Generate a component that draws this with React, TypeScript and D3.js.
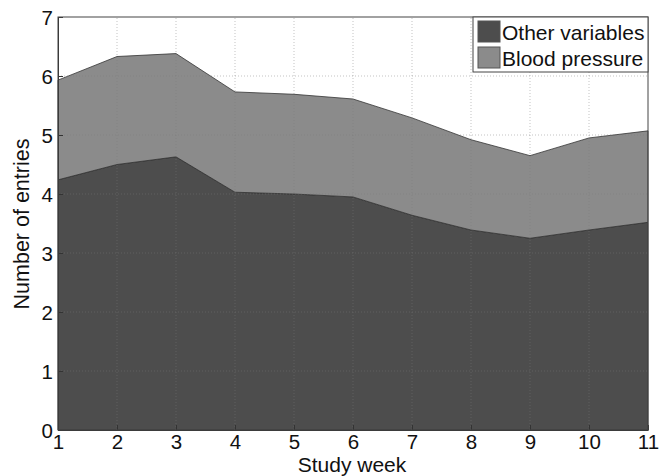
import React, { useRef, useEffect } from 'react';
import * as d3 from 'd3';

const weeks = [1, 2, 3, 4, 5, 6, 7, 8, 9, 10, 11];
const otherVariables = [4.24, 4.5, 4.63, 4.03, 4.0, 3.95, 3.64, 3.39, 3.25, 3.39, 3.52];
const bloodPressure = [1.69, 1.83, 1.75, 1.7, 1.69, 1.66, 1.65, 1.53, 1.4, 1.56, 1.55];
const seriesNames = ['Other variables', 'Blood pressure'];
const seriesColors = ['#4d4d4d', '#8b8b8b'];
const yTicks = [0, 1, 2, 3, 4, 5, 6, 7];

const App = () => {
  const ref = useRef<SVGSVGElement>(null);

  useEffect(() => {
    const svg = d3.select(ref.current);
    svg.selectAll('*').remove();

    const width = 669;
    const height = 476;
    const margin = { top: 17, right: 21, bottom: 46, left: 58 };
    const font = 'Liberation Sans, Arial, sans-serif';

    const data = weeks.map((w, i) => ({ week: w, other: otherVariables[i], bp: bloodPressure[i] }));
    const series = d3.stack<any>().keys(['other', 'bp'])(data);

    const x = d3.scaleLinear().domain([1, 11]).range([margin.left, width - margin.right]);
    const y = d3.scaleLinear().domain([0, 7]).range([height - margin.bottom, margin.top]);

    svg.append('rect').attr('x', margin.left).attr('y', margin.top)
      .attr('width', x(11) - x(1)).attr('height', y(0) - y(7)).attr('fill', '#fff');

    const area = d3.area<any>().x(d => x(d.data.week)).y0(d => y(d[0])).y1(d => y(d[1]));

    svg.append('g').selectAll('path').data(series).join('path')
      .attr('d', area).attr('fill', (d, i) => seriesColors[i])
      .attr('stroke', '#333').attr('stroke-width', 0.8);

    // dotted grid on top
    const grid = svg.append('g').attr('stroke', '#777').attr('stroke-opacity', 0.45)
      .attr('stroke-dasharray', '1,2').attr('stroke-width', 1);
    grid.selectAll('.gx').data(weeks.slice(1, -1)).join('line')
      .attr('x1', d => x(d)).attr('x2', d => x(d)).attr('y1', y(0)).attr('y2', y(7));
    grid.selectAll('.gy').data(yTicks.slice(1, -1)).join('line')
      .attr('y1', d => y(d)).attr('y2', d => y(d)).attr('x1', x(1)).attr('x2', x(11));

    const xAxis = svg.append('g').attr('transform', `translate(0,${y(0)})`)
      .call(d3.axisBottom(x).tickValues(weeks).tickFormat(d3.format('d')).tickSizeInner(-5).tickSizeOuter(0).tickPadding(3));
    const yAxis = svg.append('g').attr('transform', `translate(${x(1)},0)`)
      .call(d3.axisLeft(y).tickValues(yTicks).tickFormat(d3.format('d')).tickSizeInner(-5).tickSizeOuter(0).tickPadding(5));
    [xAxis, yAxis].forEach(g => {
      g.selectAll('text').attr('font-family', font).attr('font-size', 20.5).attr('fill', '#111');
      g.selectAll('line, path').attr('stroke', '#333');
    });
    xAxis.selectAll('text').attr('dy', '0.8em');
    yAxis.selectAll('text').attr('dy', '0.35em');

    // frame
    svg.append('rect').attr('x', x(1)).attr('y', y(7)).attr('width', x(11) - x(1)).attr('height', y(0) - y(7))
      .attr('fill', 'none').attr('stroke', '#444').attr('stroke-width', 1);

    svg.append('text').attr('x', 352).attr('y', 472).attr('text-anchor', 'middle')
      .attr('font-family', font).attr('font-size', 21).attr('fill', '#111').text('Study week');
    svg.append('text').attr('transform', `translate(29,224) rotate(-90)`).attr('text-anchor', 'middle')
      .attr('font-family', font).attr('font-size', 21.5).attr('fill', '#111').text('Number of entries');

    // legend
    const lg = svg.append('g').attr('transform', `translate(473,${margin.top})`);
    lg.append('rect').attr('width', x(11) - 473).attr('height', 55).attr('fill', '#fff').attr('stroke', '#444');
    seriesNames.forEach((name, i) => {
      lg.append('rect').attr('x', 5).attr('y', 4 + i * 26).attr('width', 22).attr('height', 21)
        .attr('fill', seriesColors[i]).attr('stroke', '#555');
      lg.append('text').attr('x', 29).attr('y', 23 + i * 26).attr('font-family', font).attr('font-size', 21)
        .attr('fill', '#111').text(name);
    });
  }, []);

  return <svg ref={ref} width={669} height={476} style={{ display: 'block', position: 'absolute', left: 0, top: 0 }} />;
};

export default App;
